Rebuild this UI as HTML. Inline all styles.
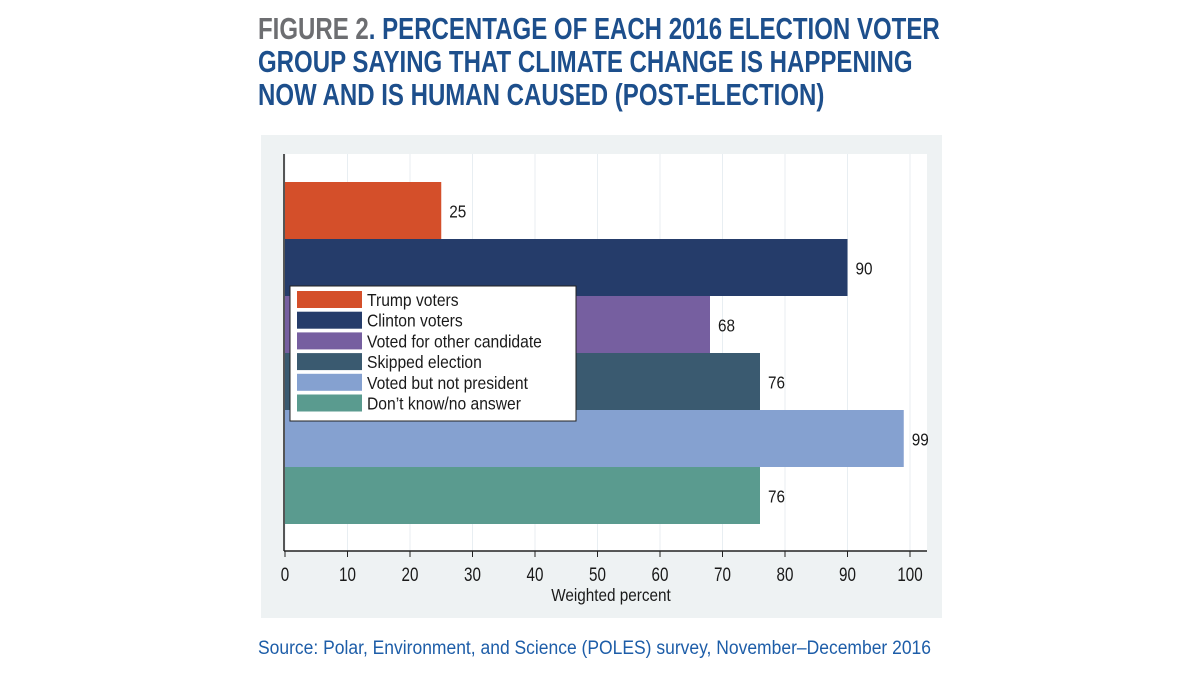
<!DOCTYPE html>
<html><head><meta charset="utf-8"><style>
body{margin:0;width:1200px;height:675px;background:#fff;overflow:hidden;font-family:"Liberation Sans",sans-serif}
.title{position:absolute;left:258px;top:12px;font-weight:bold;font-size:31px;line-height:33px;color:#1d4f8c;transform:scaleX(0.775);transform-origin:0 0;white-space:nowrap}
.title .g{color:#6d6e71}
.src{position:absolute;left:258px;top:638px;font-size:19px;color:#1d5da8;transform:scaleX(0.92);transform-origin:0 0;white-space:nowrap}
</style></head><body>
<div class="title"><span class="g">FIGURE 2</span>. PERCENTAGE OF EACH 2016 ELECTION VOTER<br>GROUP SAYING THAT CLIMATE CHANGE IS HAPPENING<br>NOW AND IS HUMAN CAUSED (POST-ELECTION)</div>
<svg id="c" width="1200" height="675" style="position:absolute;left:0;top:0"></svg>
<div class="src">Source: Polar, Environment, and Science (POLES) survey, November–December 2016</div>
<script>
const categories=["Trump voters","Clinton voters","Voted for other candidate","Skipped election","Voted but not president","Don’t know/no answer"];
const values=[25,90,68,76,99,76];
const colors=["#d44f2a","#253c6a","#765fa0","#3a5a70","#85a1d0","#5a9b8f"];
const ticks=[0,10,20,30,40,50,60,70,80,90,100];
const NS="http://www.w3.org/2000/svg";
const svg=document.getElementById('c');
function mk(t,a,p){const e=document.createElementNS(NS,t);for(const k in a)e.setAttribute(k,a[k]);(p||svg).appendChild(e);return e;}
function txt(str,px,py,size,anchor,sx){const g=mk('g',{transform:`translate(${px},${py}) scale(${sx},1)`});const t=mk('text',{x:0,y:0,'text-anchor':anchor,'font-size':size,fill:'#1a1a1a','font-family':'"Liberation Sans",sans-serif'},g);t.textContent=str;return t;}
const x=v=>285+v*6.25;
const band=57,y0=182;
const y=i=>y0+i*band;
let e=mk('rect',{x:261,y:135,width:681,height:483,fill:'#eef2f3'});


e=mk('rect',{x:284,y:154,width:643,height:397,fill:'#fff'});


ticks.forEach(t=>{
 e=mk('line',{x1:x(t),x2:x(t),y1:154,y2:551,stroke:'#e8eef2','stroke-width':1});
 
 
 e=mk('line',{x1:x(t),x2:x(t),y1:551,y2:557,stroke:'#222'});
 
 
 e=txt(String(t),x(t),581,19,'middle',0.8);
 
 
});
values.forEach((v,i)=>{
 e=mk('rect',{x:x(0),y:y(i),width:x(v)-x(0),height:band,fill:colors[i]});
 
 
 e=txt(String(v),x(v)+8,y(i)+band/2+7,18,'start',0.85);
 
 
});
e=mk('line',{x1:284,x2:284,y1:154,y2:551,stroke:'#222','stroke-width':1.5});


e=mk('line',{x1:284,x2:927,y1:551,y2:551,stroke:'#222','stroke-width':1.5});


e=txt('Weighted percent',611,601,18,'middle',0.85);


e=mk('rect',{x:290,y:286,width:286,height:135,fill:'#fff',stroke:'#222','stroke-width':1});


categories.forEach((c,i)=>{
 const ly=291+i*20.7;
 e=mk('rect',{x:297,y:ly,width:65,height:17,fill:colors[i]});
 
 
 e=txt(c,367,ly+15,18,'start',0.87);
 
 
});
</script>
</body></html>
